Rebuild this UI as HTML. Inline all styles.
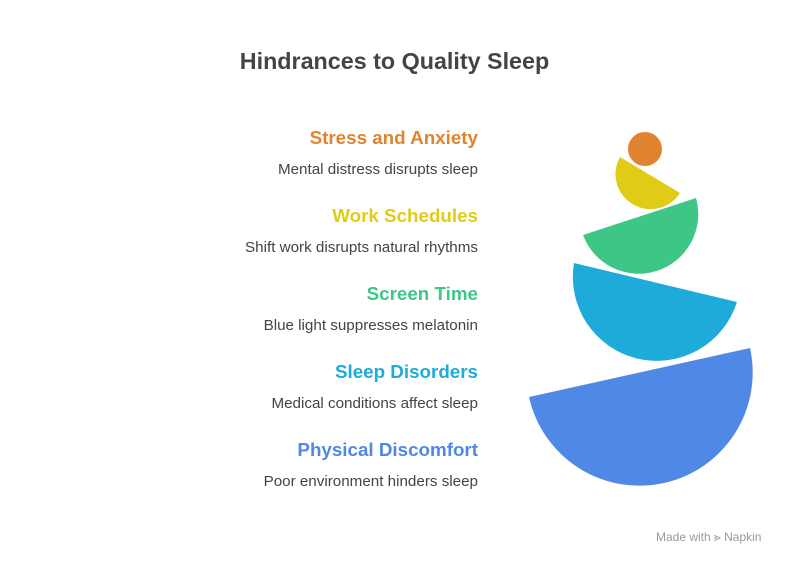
<!DOCTYPE html>
<html><head><style>
body{margin:0;width:789px;height:564px;background:#fff;font-family:"Liberation Sans",sans-serif;position:relative;overflow:hidden}
.t{position:absolute;left:0;width:789px;text-align:center;top:48px;font-size:23.3px;font-weight:bold;color:#444}
.h{position:absolute;right:311px;font-size:18.8px;font-weight:bold;white-space:nowrap}
.d{position:absolute;right:311px;font-size:15.2px;color:#444;white-space:nowrap}
.m{position:absolute;left:656px;top:530px;font-size:12px;color:#999}
</style></head><body>
<div class="t">Hindrances to Quality Sleep</div>
<div class="h" style="top:127px;color:#e0832e">Stress and Anxiety</div>
<div class="d" style="top:161px">Mental distress disrupts sleep</div>
<div class="h" style="top:205px;color:#e0cc16">Work Schedules</div>
<div class="d" style="top:239px">Shift work disrupts natural rhythms</div>
<div class="h" style="top:283px;color:#3ec686">Screen Time</div>
<div class="d" style="top:317px">Blue light suppresses melatonin</div>
<div class="h" style="top:361px;color:#1fabda">Sleep Disorders</div>
<div class="d" style="top:395px">Medical conditions affect sleep</div>
<div class="h" style="top:439px;color:#4f89e5">Physical Discomfort</div>
<div class="d" style="top:473px">Poor environment hinders sleep</div>
<div class="m">Made with ⪢ Napkin</div>
<svg width="789" height="564" style="position:absolute;left:0;top:0">
<circle cx="645" cy="149" r="17" fill="#e0832e"/>
<path d="M620 157 A35 35 0 0 0 680 193 Z" fill="#e0cc16"/>
<path d="M583 235 A59.5 59.5 0 0 0 696 198 Z" fill="#3ec686"/>
<path d="M574 263 A84 84 0 0 0 737 302 Z" fill="#1fabda"/>
<path d="M529 397 A113 113 0 0 0 750 348 Z" fill="#4f89e5"/>
</svg>
</body></html>
